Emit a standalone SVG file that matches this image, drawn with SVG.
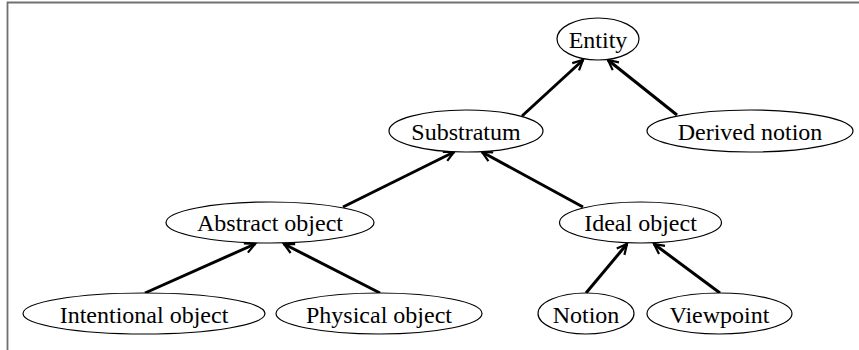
<svg xmlns="http://www.w3.org/2000/svg" width="859" height="350" viewBox="0 0 859 350">
<style>
.n ellipse{fill:#fff;stroke:#000;stroke-width:1.2}
.n text{font-family:"Liberation Serif","Times New Roman",serif;font-size:24px;text-anchor:middle;fill:#000}
.e line{stroke:#000;stroke-width:3;marker-end:url(#ah)}
</style>
<defs>
<marker id="ah" markerUnits="userSpaceOnUse" viewBox="-12 -7 14 14" refX="0" refY="0" markerWidth="14" markerHeight="14" orient="auto">
<path d="M-10,-5 L0,0 L-10,5" fill="none" stroke="#000" stroke-width="2.2"/>
</marker>
</defs>
<rect x="0" y="0" width="859" height="350" fill="#fff"/>
<path d="M7.5,350 V2.5 H859" fill="none" stroke="#707070" stroke-width="1.8"/>
<g class="e" id="connectors">
<line x1="522" y1="116" x2="583" y2="60"/>
<line x1="677" y1="115" x2="608" y2="60"/>
<line x1="343" y1="207" x2="454" y2="152"/>
<line x1="583" y1="207" x2="482" y2="152"/>
<line x1="145" y1="293" x2="255" y2="244"/>
<line x1="380" y1="293" x2="284" y2="244"/>
<line x1="586" y1="293" x2="627" y2="244"/>
<line x1="720" y1="293" x2="654" y2="244"/>
</g>
<g class="n" id="entity"><ellipse cx="598" cy="39" rx="41" ry="21"/><text x="598" y="48">Entity</text></g>
<g class="n" id="substratum"><ellipse cx="466" cy="131" rx="77" ry="21"/><text x="466" y="140">Substratum</text></g>
<g class="n" id="derived-notion"><ellipse cx="750" cy="131" rx="103" ry="21"/><text x="750" y="140">Derived notion</text></g>
<g class="n" id="abstract-object"><ellipse cx="270" cy="222.5" rx="104" ry="20.5"/><text x="270" y="231">Abstract object</text></g>
<g class="n" id="ideal-object"><ellipse cx="640.5" cy="222.5" rx="81" ry="20.5"/><text x="640.5" y="231">Ideal object</text></g>
<g class="n" id="intentional-object"><ellipse cx="144" cy="313.5" rx="121" ry="20.5"/><text x="144" y="322.5">Intentional object</text></g>
<g class="n" id="physical-object"><ellipse cx="379" cy="313.5" rx="103" ry="20.5"/><text x="379" y="322.5">Physical object</text></g>
<g class="n" id="notion"><ellipse cx="586" cy="313.5" rx="48" ry="20.5"/><text x="586" y="322.5">Notion</text></g>
<g class="n" id="viewpoint"><ellipse cx="719.5" cy="313.5" rx="72.5" ry="20.5"/><text x="719.5" y="322.5">Viewpoint</text></g>
</svg>
